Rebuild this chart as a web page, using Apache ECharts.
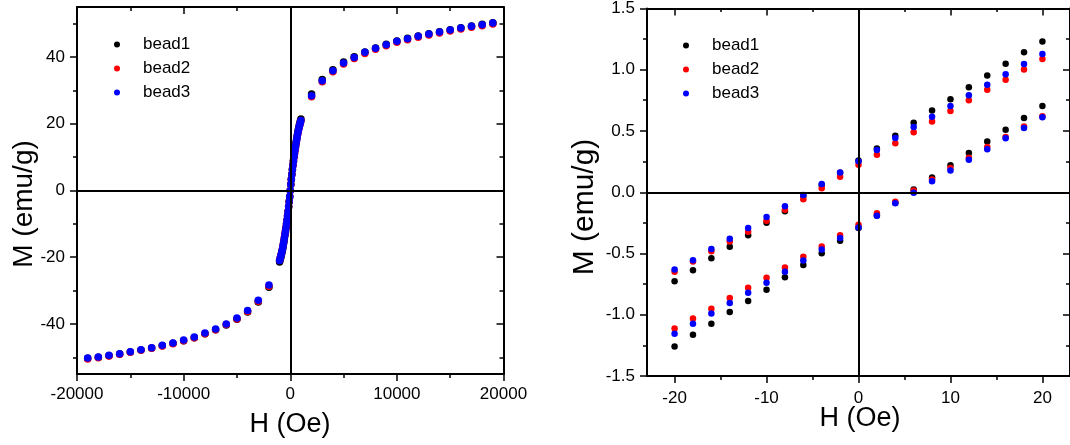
<!DOCTYPE html>
<html><head><meta charset="utf-8">
<script src="https://cdn.jsdelivr.net/npm/echarts@6/dist/echarts.min.js"></script>
<style>html,body{margin:0;padding:0;background:#fff}#c{width:1070px;height:445px}</style>
</head><body><div id="c"></div>
<script>
// ---------- data ----------
const SERIES_NAMES = ['bead1', 'bead2', 'bead3'];
const COLORS = ['#000000', '#ff0000', '#0000ff'];

// Left panel: full M-H curve
const H_OUTER = [-19000,-18000,-17000,-16000,-15000,-14000,-13000,-12000,-11000,-10000,-9000,-8000,-7000,-6000,-5000,-4000,-3000,-2000,
                 2000,3000,4000,5000,6000,7000,8000,9000,10000,11000,12000,13000,14000,15000,16000,17000,18000,19000];
const M_OUTER_BEAD1 = [-50.3,-50.0,-49.5,-49.0,-48.4,-47.8,-47.2,-46.5,-45.8,-45.0,-44.1,-42.9,-41.7,-40.3,-38.6,-36.4,-33.4,-29.0,
                       28.9,33.3,36.2,38.5,40.1,41.5,42.7,43.8,44.8,45.6,46.3,47.0,47.6,48.2,48.8,49.3,49.8,50.3];
const M_OUTER_BEAD2 = [-50.5,-50.1,-49.6,-49.1,-48.5,-47.9,-47.3,-46.6,-45.9,-45.0,-44.1,-42.9,-41.7,-40.2,-38.5,-36.3,-33.2,-28.7,
                       28.1,32.6,35.6,37.9,39.6,41.1,42.3,43.4,44.4,45.2,45.9,46.6,47.2,47.8,48.4,48.9,49.4,49.9];
const M_OUTER_BEAD3 = [-50.2,-49.9,-49.4,-48.9,-48.3,-47.7,-47.1,-46.4,-45.7,-44.8,-43.9,-42.7,-41.5,-40.0,-38.2,-36.0,-32.9,-28.3,
                       28.4,32.9,35.9,38.2,39.9,41.4,42.6,43.7,44.7,45.5,46.2,46.9,47.5,48.1,48.7,49.2,49.7,50.2];

const H_INNER = [-1000,-950,-900,-850,-800,-750,-700,-650,-600,-550,-500,-450,-400,-350,-300,-250,-200,-150,-100,-50,0,
                 50,100,150,200,250,300,350,400,450,500,550,600,650,700,750,800,850,900,950,1000];
const M_INNER_BEAD1 = [-21.4,-20.8,-20.2,-19.6,-18.9,-18.2,-17.4,-16.5,-15.5,-14.5,-13.5,-12.5,-11.4,-10.2,-9.0,-7.7,-6.4,-4.9,-3.4,-1.9,0.0,
                       1.9,3.4,4.9,6.4,7.7,9.0,10.2,11.4,12.5,13.5,14.5,15.5,16.5,17.4,18.2,18.9,19.6,20.2,20.8,21.4];
const M_INNER_BEAD2 = [-20.9,-20.3,-19.7,-19.1,-18.4,-17.7,-16.9,-16.0,-15.1,-14.1,-13.1,-12.1,-11.1,-10.0,-8.8,-7.5,-6.2,-4.8,-3.3,-1.8,0.0,
                       1.8,3.3,4.8,6.2,7.5,8.8,10.0,11.1,12.1,13.1,14.1,15.1,16.0,16.9,17.7,18.4,19.1,19.7,20.3,20.9];
const M_INNER_BEAD3 = [-21.0,-20.4,-19.8,-19.2,-18.5,-17.8,-17.0,-16.1,-15.2,-14.2,-13.2,-12.2,-11.1,-10.0,-8.8,-7.5,-6.2,-4.8,-3.3,-1.8,0.0,
                       1.8,3.3,4.8,6.2,7.5,8.8,10.0,11.1,12.2,13.2,14.2,15.2,16.1,17.0,17.8,18.5,19.2,19.8,20.4,21.0];

// Right panel: low-field loop
const H_DOWN = [20,18,16,14,12,10,8,6,4,2,0,-2,-4,-6,-8,-10,-12,-14,-16,-18,-20];
const H_UP   = [-20,-18,-16,-14,-12,-10,-8,-6,-4,-2,0,2,4,6,8,10,12,14,16,18,20];
const M_DOWN_BEAD1 = [1.230,1.142,1.049,0.954,0.858,0.760,0.667,0.568,0.462,0.358,0.260,0.160,0.060,-0.030,-0.156,-0.249,-0.350,-0.445,-0.538,-0.637,-0.727];
const M_DOWN_BEAD2 = [1.087,1.003,0.918,0.836,0.751,0.664,0.577,0.489,0.399,0.306,0.224,0.126,0.033,-0.057,-0.142,-0.232,-0.322,-0.402,-0.481,-0.566,-0.648];
const M_DOWN_BEAD3 = [1.128,1.046,0.964,0.877,0.792,0.705,0.617,0.533,0.443,0.344,0.254,0.161,0.068,-0.022,-0.115,-0.202,-0.292,-0.380,-0.464,-0.555,-0.631];
const M_UP_BEAD1 = [-1.260,-1.164,-1.074,-0.978,-0.888,-0.795,-0.694,-0.593,-0.497,-0.396,-0.292,-0.190,-0.085,0.022,0.120,0.221,0.320,0.415,0.511,0.607,0.705];
const M_UP_BEAD2 = [-1.112,-1.030,-0.951,-0.863,-0.779,-0.697,-0.615,-0.527,-0.443,-0.352,-0.265,-0.172,-0.077,0.014,0.104,0.197,0.281,0.369,0.451,0.536,0.620];
const M_UP_BEAD3 = [-1.156,-1.074,-0.989,-0.904,-0.820,-0.738,-0.648,-0.557,-0.467,-0.374,-0.287,-0.191,-0.090,-0.005,0.090,0.178,0.265,0.352,0.440,0.525,0.612];

// tick values
const LEFT_X_MAJOR = [-20000,-10000,0,10000,20000];
const LEFT_X_MINOR = [-15000,-5000,5000,15000];
const LEFT_Y_MAJOR = [-40,-20,0,20,40];
const LEFT_Y_MINOR = [-50,-30,-10,10,30,50];
const RIGHT_X_MAJOR = [-20,-10,0,10,20];
const RIGHT_X_MINOR = [-15,-5,5,15];
const RIGHT_Y_MAJOR = [-1.5,-1.0,-0.5,0,0.5,1.0,1.5];
const RIGHT_Y_MINOR = [-1.25,-0.75,-0.25,0.25,0.75,1.25];

const X_TITLE = 'H (Oe)';
const Y_TITLE = 'M (emu/g)';

// ---------- chart ----------
const FONT = '"Liberation Sans", Arial, sans-serif';
const zip = (xs, ys) => xs.map((x, i) => [x, ys[i]]);

function axisPair(dir, gi, min, max, majors, minors, fmt, margin) {
  const first = dir === 'x' ? 'bottom' : 'left';
  const second = dir === 'x' ? 'top' : 'right';
  const base = { type: 'value', min, max, splitLine: { show: false }, minorTick: { show: false }, splitArea: { show: false } };
  const line = { show: true, onZero: false, lineStyle: { color: '#000', width: 2 } };
  const tickStyle = { color: '#000', width: 1.5 };
  return {
    main: [
      Object.assign({}, base, { gridIndex: gi, position: first, axisLine: line,
        axisTick: { show: true, inside: false, length: 7, customValues: majors, lineStyle: tickStyle },
        axisLabel: { show: true, customValues: majors, formatter: fmt, margin, color: '#000', fontSize: 17, fontFamily: FONT } }),
      Object.assign({}, base, { gridIndex: gi, position: second, axisLine: line,
        axisTick: { show: true, inside: true, length: 7, customValues: majors, lineStyle: tickStyle },
        axisLabel: { show: false } })
    ],
    minor: [
      Object.assign({}, base, { gridIndex: gi + 1, position: first, axisLine: { show: false, onZero: false },
        axisTick: { show: true, inside: false, length: 4, customValues: minors, lineStyle: tickStyle },
        axisLabel: { show: false } }),
      Object.assign({}, base, { gridIndex: gi + 1, position: second, axisLine: { show: false, onZero: false },
        axisTick: { show: true, inside: true, length: 4, customValues: minors, lineStyle: tickStyle },
        axisLabel: { show: false } })
    ]
  };
}

const fmtInt = v => String(v);
const fmt1 = v => Number(v).toFixed(1);

const lx = axisPair('x', 0, -20000, 20000, LEFT_X_MAJOR, LEFT_X_MINOR, fmtInt, 12);
const ly = axisPair('y', 0, -55, 55, LEFT_Y_MAJOR, LEFT_Y_MINOR, fmtInt, 12);
const rx = axisPair('x', 2, -23, 23, RIGHT_X_MAJOR, RIGHT_X_MINOR, fmtInt, 14);
const ry = axisPair('y', 2, -1.5, 1.5, RIGHT_Y_MAJOR, RIGHT_Y_MINOR, fmt1, 12);

const xAxes = [...lx.main, ...lx.minor, ...rx.main, ...rx.minor];
const yAxes = [...ly.main, ...ly.minor, ...ry.main, ...ry.minor];

const LEFT_RECT = { left: 77, top: 7, width: 426.5, height: 367 };
const RIGHT_RECT = { left: 647, top: 8, width: 426, height: 368 };

const zeroLines = {
  silent: true, animation: false, symbol: ['none', 'none'], label: { show: false },
  lineStyle: { color: '#000', width: 2, type: 'solid' },
  emphasis: { disabled: true },
  data: [{ xAxis: 0 }, { yAxis: 0 }]
};

const leftM = [M_OUTER_BEAD1, M_OUTER_BEAD2, M_OUTER_BEAD3];
const leftInner = [M_INNER_BEAD1, M_INNER_BEAD2, M_INNER_BEAD3];
const rightDown = [M_DOWN_BEAD1, M_DOWN_BEAD2, M_DOWN_BEAD3];
const rightUp = [M_UP_BEAD1, M_UP_BEAD2, M_UP_BEAD3];

const series = [];
SERIES_NAMES.forEach((name, i) => {
  const s = {
    type: 'scatter', name, xAxisIndex: 0, yAxisIndex: 0,
    symbol: 'circle', symbolSize: 7.5,
    itemStyle: { color: COLORS[i], opacity: 1 },
    emphasis: { disabled: true }, animation: false,
    data: zip(H_OUTER, leftM[i]).concat(zip(H_INNER, leftInner[i]))
  };
  if (i === 0) s.markLine = zeroLines;
  series.push(s);
});
SERIES_NAMES.forEach((name, i) => {
  const s = {
    type: 'scatter', name, xAxisIndex: 4, yAxisIndex: 4,
    symbol: 'circle', symbolSize: 6.5,
    itemStyle: { color: COLORS[i], opacity: 1 },
    emphasis: { disabled: true }, animation: false,
    data: zip(H_DOWN, rightDown[i]).concat(zip(H_UP, rightUp[i]))
  };
  if (i === 0) s.markLine = zeroLines;
  series.push(s);
});

const legendBase = {
  orient: 'vertical', data: SERIES_NAMES, icon: 'circle', itemWidth: 6, itemHeight: 6,
  itemGap: 7, padding: 0, selectedMode: false,
  textStyle: { fontSize: 17, color: '#000', fontFamily: FONT, padding: [0, 0, 0, 18] }
};

const titleStyle = (size) => ({ fill: '#000', fontSize: size, fontFamily: FONT, textAlign: 'center', textVerticalAlign: 'middle' });

const option = {
  backgroundColor: '#fff',
  animation: false,
  grid: [
    Object.assign({ containLabel: false }, LEFT_RECT),
    Object.assign({ containLabel: false }, LEFT_RECT),
    Object.assign({ containLabel: false }, RIGHT_RECT),
    Object.assign({ containLabel: false }, RIGHT_RECT)
  ],
  xAxis: xAxes,
  yAxis: yAxes,
  legend: [
    Object.assign({ left: 114, top: 36 }, legendBase),
    Object.assign({ left: 683, top: 37 }, legendBase)
  ],
  graphic: [
    { type: 'text', x: 290, y: 425, silent: true, style: Object.assign({ text: X_TITLE }, titleStyle(27)) },
    { type: 'text', x: 860, y: 419, silent: true, style: Object.assign({ text: X_TITLE }, titleStyle(27)) },
    { type: 'text', x: 24, y: 204, rotation: Math.PI / 2, silent: true, style: Object.assign({ text: Y_TITLE }, titleStyle(28)) },
    { type: 'text', x: 585, y: 207, rotation: Math.PI / 2, silent: true, style: Object.assign({ text: Y_TITLE }, titleStyle(30)) }
  ],
  series
};

const chart = echarts.init(document.getElementById('c'), null, { renderer: 'canvas' });
chart.setOption(option);
</script>
</body></html>
